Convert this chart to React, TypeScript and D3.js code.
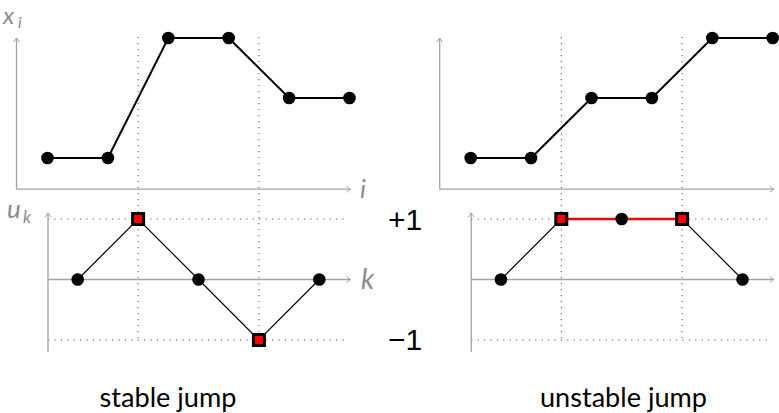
import React from "react";
import * as d3 from "d3";

const xStable = [0, 0, 2, 2, 1, 1];
const xUnstable = [0, 0, 1, 1, 2, 2];
const uStable = [0, 1, 0, -1, 0];
const uUnstable = [0, 1, 1, 1, 0];
const jumpK = [1, 3]; // indices of k where jumps occur (squares)
const captions = ["stable jump", "unstable jump"];
const uTicks = ["+1", "\u22121"];

const W = 779;
const H = 413;
const AX = "#a3a3a3";
const LBL = "#8c8c8c";
const DOT = "#555";

function Arrow({ x1, y1, x2, y2 }: { x1: number; y1: number; x2: number; y2: number }) {
  const ang = Math.atan2(y2 - y1, x2 - x1);
  const L = 5;
  const a1 = ang + Math.PI * 0.8;
  const a2 = ang - Math.PI * 0.8;
  return (
    <g>
      <line x1={x1} y1={y1} x2={x2} y2={y2} stroke={AX} strokeWidth={1.3} />
      <path
        d={`M${x2 + L * Math.cos(a1)},${y2 + L * Math.sin(a1)} L${x2},${y2} L${x2 + L * Math.cos(a2)},${y2 + L * Math.sin(a2)}`}
        fill="none"
        stroke={AX}
        strokeWidth={1}
      />
    </g>
  );
}

function Panel({ x0, xs, us, left, redBar }: { x0: number; xs: number[]; us: number[]; left: boolean; redBar: boolean }) {
  const iScale = d3.scaleLinear().domain([0, 5]).range([x0, x0 + 302]);
  const yTop = d3.scaleLinear().domain([0, 2]).range([158, 38]);
  const yBot = d3.scaleLinear().domain([-1, 1]).range([340, 219]);
  const topLine = d3
    .line<number>()
    .x((_, i) => iScale(i))
    .y((d) => yTop(d));
  const kx = (k: number) => iScale(k + 0.5);
  const botLine = d3
    .line<number>()
    .x((_, k) => kx(k))
    .y((d) => yBot(d));
  const axTopY = yTop(-0.52);
  const yAxTopX = x0 - 31;
  const yAxBotX = x0 + 0.5;
  const xEnd = x0 + 303;
  const sq = 11;
  return (
    <g>
      {jumpK.map((k) => (
        <line key={"v" + k} x1={kx(k)} x2={kx(k)} y1={37} y2={yBot(-1)} stroke={DOT} strokeWidth={1} strokeDasharray="1.2 4.8" />
      ))}
      {[1, -1].map((v) => (
        <line key={"h" + v} x1={yAxBotX} x2={x0 + 301} y1={yBot(v)} y2={yBot(v)} stroke={DOT} strokeWidth={1} strokeDasharray="1.2 5.2" />
      ))}
      <Arrow x1={yAxTopX} y1={axTopY} x2={xEnd} y2={axTopY} />
      <Arrow x1={yAxTopX} y1={axTopY} x2={yAxTopX} y2={38} />
      <Arrow x1={yAxBotX} y1={yBot(0)} x2={xEnd} y2={yBot(0)} />
      <Arrow x1={yAxBotX} y1={352} x2={yAxBotX} y2={213} />
      <path d={topLine(xs) || ""} fill="none" stroke="#000" strokeWidth={2} />
      {xs.map((v, i) => (
        <circle key={"t" + i} cx={iScale(i)} cy={yTop(v)} r={6.3} fill="#000" />
      ))}
      <path d={botLine(us) || ""} fill="none" stroke="#000" strokeWidth={1.2} />
      {redBar && (
        <line x1={kx(jumpK[0])} x2={kx(jumpK[1])} y1={yBot(1)} y2={yBot(1)} stroke="#ff0000" strokeWidth={2.5} />
      )}
      {us.map((v, k) =>
        jumpK.includes(k) ? null : <circle key={"b" + k} cx={kx(k)} cy={yBot(v)} r={6.3} fill="#000" />
      )}
      {jumpK.map((k) => (
        <rect
          key={"s" + k}
          x={kx(k) - sq / 2}
          y={yBot(us[k]) - sq / 2}
          width={sq}
          height={sq}
          fill="#ff0000"
          stroke="#000"
          strokeWidth={3}
        />
      ))}
      {left && (
        <g fill={LBL} fontFamily="Lato, 'Open Sans', sans-serif" fontStyle="italic">
          <text x={3} y={24} fontSize={24}>x</text>
          <text x={18} y={28} fontSize={16}>i</text>
          <text x={360} y={198} fontSize={26}>i</text>
          <text x={7} y={218} fontSize={26}>u</text>
          <text x={23} y={223} fontSize={17}>k</text>
          <text x={361} y={289} fontSize={28}>k</text>
        </g>
      )}
    </g>
  );
}

export default function App() {
  return (
    <svg width={W} height={H} style={{ position: "absolute", left: 0, top: 0, background: "#fff" }}>
      <Panel x0={47.5} xs={xStable} us={uStable} left={true} redBar={false} />
      <Panel x0={470.7} xs={xUnstable} us={uUnstable} left={false} redBar={true} />
      <g fontFamily="'Liberation Sans', Arial, sans-serif" fill="#000">
        <text x={405} y={230} fontSize={30} textAnchor="middle">{uTicks[0]}</text>
        <text x={405} y={350} fontSize={30} textAnchor="middle">{uTicks[1]}</text>
      </g>
      <g fontFamily="Lato, 'Open Sans', sans-serif" fill="#000">
        <text x={168} y={407} fontSize={27} textAnchor="middle" textLength={137} lengthAdjust="spacingAndGlyphs">{captions[0]}</text>
        <text x={623.5} y={407} fontSize={27} textAnchor="middle" textLength={167} lengthAdjust="spacingAndGlyphs">{captions[1]}</text>
      </g>
    </svg>
  );
}
